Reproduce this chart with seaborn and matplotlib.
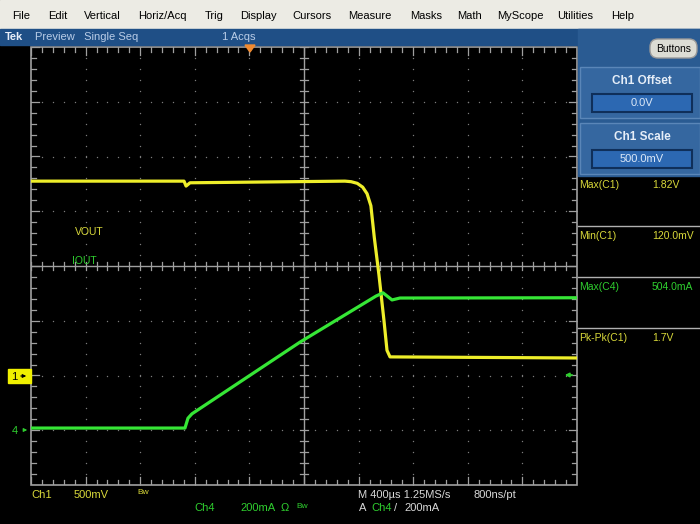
import numpy as np
import pandas as pd
import matplotlib
matplotlib.use("Agg")
import matplotlib.pyplot as plt
from matplotlib.patches import Rectangle, FancyBboxPatch, Polygon
import seaborn as sns

# scope settings
ch1_scale = 0.5      # V/div
ch1_pos = -2.0       # div
ch4_scale = 200.0    # mA/div
ch4_pos = -3.0       # div
time_scale = 400.0   # us/div

# VOUT (Ch1) trace, time in us, volts
vout_t = [0, 1121, 1136, 1165, 2300, 2345, 2390, 2430, 2462, 2490, 2515, 2549, 2586, 2608, 2630, 4000]
vout_v = [1.775, 1.775, 1.73, 1.76, 1.775, 1.77, 1.755, 1.72, 1.66, 1.55, 1.26, 0.92, 0.50, 0.23, 0.17, 0.16]

# IOUT (Ch4) trace, time in us, mA
iout_t = [0, 1128, 1150, 1179, 1971, 2527, 2579, 2645, 2703, 4000]
iout_ma = [8, 8, 44, 60, 322, 490, 502, 476, 483, 484]

menu_items = ["File", "Edit", "Vertical", "Horiz/Acq", "Trig", "Display", "Cursors",
              "Measure", "Masks", "Math", "MyScope", "Utilities", "Help"]
menu_x = [12, 48, 84, 138, 205, 240, 292, 348, 410, 457, 497, 557, 611]

meas_labels = ["Max(C1)", "Min(C1)", "Max(C4)", "Pk-Pk(C1)"]
meas_values = ["1.82V", "120.0mV", "504.0mA", "1.7V"]
meas_chan = [1, 1, 4, 1]

YEL = "#eeee2a"
GRN = "#36e636"
YEL_TXT = "#d9d93a"
GRN_TXT = "#2fcf2f"
GRID = "#7c7c7c"
LINE = "#a0a0a0"

plt.rcParams["font.family"] = ["Liberation Sans Narrow", "Liberation Sans", "DejaVu Sans"]

fig = plt.figure(figsize=(7, 5.24), dpi=100)
fig.patch.set_facecolor("black")

# ---- graticule ----
ax = fig.add_axes([31 / 700, (524 - 485) / 524, 546 / 700, 438 / 524])
ax.set_facecolor("black")
ax.set_xlim(0, 10)
ax.set_ylim(-4, 4)
ax.set_axis_off()
ax.set_zorder(1)

# dotted major grid
fine = np.arange(0, 10.01, 0.2)
fine_y = np.arange(-4, 4.01, 0.2)
for gx in range(1, 10):
    if gx != 5:
        ax.scatter(np.full(len(fine_y), gx), fine_y, s=1.0, c=GRID, lw=0)
for gy in range(-3, 4):
    if gy != 0:
        ax.scatter(fine, np.full(len(fine), gy), s=1.0, c=GRID, lw=0)

# centre cross with ticks
ax.axhline(0, color=LINE, lw=1)
ax.axvline(5, color=LINE, lw=1)
for v in fine:
    ax.plot([v, v], [-0.08, 0.08], color=LINE, lw=0.9)
for v in fine_y:
    ax.plot([4.92, 5.08], [v, v], color=LINE, lw=0.9)

# border and inward ticks
ax.add_patch(Rectangle((0, -4), 10, 8, fill=False, ec=LINE, lw=1.2, clip_on=False))
for v in fine:
    L = 0.14 if abs(v - round(v)) < 1e-6 else 0.09
    ax.plot([v, v], [4, 4 - L], color=LINE, lw=0.9)
    ax.plot([v, v], [-4, -4 + L], color=LINE, lw=0.9)
for v in fine_y:
    L = 0.14 if abs(v - round(v)) < 1e-6 else 0.09
    ax.plot([0, L], [v, v], color=LINE, lw=0.9)
    ax.plot([10, 10 - L], [v, v], color=LINE, lw=0.9)

# traces
vdf = pd.DataFrame({"t": vout_t, "v": vout_v})
vdf["xd"] = vdf["t"] / time_scale
vdf["yd"] = vdf["v"] / ch1_scale + ch1_pos
idf = pd.DataFrame({"t": iout_t, "i": iout_ma})
idf["xd"] = idf["t"] / time_scale
idf["yd"] = idf["i"] / ch4_scale + ch4_pos

sns.lineplot(data=vdf, x="xd", y="yd", ax=ax, color=YEL, lw=2.3, estimator=None, sort=False)
sns.lineplot(data=idf, x="xd", y="yd", ax=ax, color=GRN, lw=2.3, estimator=None, sort=False)
ax.set_xlim(0, 10)
ax.set_ylim(-4, 4)

# ---- window chrome in pixel coords ----
bg = fig.add_axes([0, 0, 1, 1])
bg.set_xlim(0, 700)
bg.set_ylim(524, 0)
bg.set_axis_off()
bg.patch.set_visible(False)
bg.set_zorder(2)

# menu bar
bg.add_patch(Rectangle((0, 0), 700, 29, color="#ecebe4"))
for name, x in zip(menu_items, menu_x):
    bg.text(x, 16, name, fontsize=8, color="black", va="center", family=["Liberation Sans", "DejaVu Sans"])

# status bar
bg.add_patch(Rectangle((0, 29), 700, 16, color="#1f4f86"))
bg.text(5, 37, "Tek", fontsize=8, color="#e8eef8", va="center", weight="bold")
bg.text(35, 37, "Preview   Single Seq", fontsize=8, color="#b9cde8", va="center")
bg.text(222, 37, "1 Acqs", fontsize=8, color="#b9cde8", va="center")

# right control panel
bg.add_patch(Rectangle((578, 29), 122, 147, color="#2a5b92"))
bg.add_patch(FancyBboxPatch((650, 39), 47, 19, boxstyle="round,pad=0,rounding_size=8",
                            fc="#dcdcd4", ec="#9a9a9a", lw=1))
bg.text(673.5, 48.5, "Buttons", fontsize=7.5, color="black", ha="center", va="center")
for ytop, title, val in [(67, "Ch1 Offset", "0.0V"), (123, "Ch1 Scale", "500.0mV")]:
    bg.add_patch(Rectangle((580, ytop), 120, 51, fc="#3567a0", ec="#5a86b8", lw=1))
    bg.text(642, ytop + 14, title, fontsize=8.5, color="#e6eef8", ha="center", va="center",
            weight="bold", family=["Liberation Sans", "DejaVu Sans"])
    bg.add_patch(Rectangle((592, ytop + 27), 100, 18, fc="#2c68b2", ec="#0f2f5a", lw=1.5))
    bg.text(642, ytop + 36, val, fontsize=8, color="#dce8f8", ha="center", va="center")

# measurements
for k, (lab, val, ch) in enumerate(zip(meas_labels, meas_values, meas_chan)):
    y = 185 + 51 * k
    c = YEL_TXT if ch == 1 else GRN_TXT
    bg.text(579, y, lab, fontsize=7.5, color=c, va="center")
    bg.text(652, y, val, fontsize=7.5, color=c, va="center")
    if k > 0:
        bg.plot([578, 700], [y - 10, y - 10], color="#b0b0b0", lw=1)

# trigger position marker
bg.add_patch(Polygon([(245, 45), (255, 45), (250, 52)], closed=True, color="#f08a30"))

# trace labels
bg.text(75, 232, "VOUT", fontsize=7.5, color=YEL_TXT, va="center")
bg.text(72, 261, "IOUT", fontsize=7.5, color=GRN_TXT, va="center")

# channel ground markers
bg.add_patch(Rectangle((8, 369), 23, 14, color="#f0f000"))
bg.text(11, 376.5, "1", fontsize=8, color="black", va="center")
bg.annotate("", xy=(29, 376), xytext=(18, 376),
            arrowprops=dict(arrowstyle="-|>", color="black", lw=0.8, mutation_scale=5))
bg.text(12, 431, "4", fontsize=8, color=GRN_TXT, va="center")
bg.annotate("", xy=(30, 430), xytext=(21, 430),
            arrowprops=dict(arrowstyle="-|>", color=GRN_TXT, lw=0.8, mutation_scale=5))
# trigger level marker
bg.annotate("", xy=(562, 375), xytext=(575, 375),
            arrowprops=dict(arrowstyle="-|>", color=GRN_TXT, lw=1.2, mutation_scale=6))

# bottom readout
bg.text(31, 495, "Ch1", fontsize=8, color=YEL_TXT, va="center")
bg.text(74, 495, "500mV", fontsize=8, color=YEL_TXT, va="center")
bg.text(137, 493, "Bw", fontsize=6, color=YEL_TXT, va="center")
bg.text(194, 508, "Ch4", fontsize=8, color=GRN_TXT, va="center")
bg.text(240, 508, "200mA", fontsize=8, color=GRN_TXT, va="center")
bg.text(281, 508, "Ω", fontsize=8, color=GRN_TXT, va="center")
bg.text(296, 506, "Bw", fontsize=6, color=GRN_TXT, va="center")
bg.text(358, 495, "M 400µs 1.25MS/s", fontsize=8, color="#d8d8d8", va="center")
bg.text(474, 495, "800ns/pt", fontsize=8, color="#d8d8d8", va="center")
bg.text(359, 508, "A", fontsize=8, color="#d8d8d8", va="center")
bg.text(371, 508, "Ch4", fontsize=8, color=GRN_TXT, va="center")
bg.text(394, 508, "/", fontsize=8, color="#d8d8d8", va="center")
bg.text(404, 508, "200mA", fontsize=8, color="#d8d8d8", va="center")

fig.savefig("out.png", dpi=100, facecolor=fig.get_facecolor())
